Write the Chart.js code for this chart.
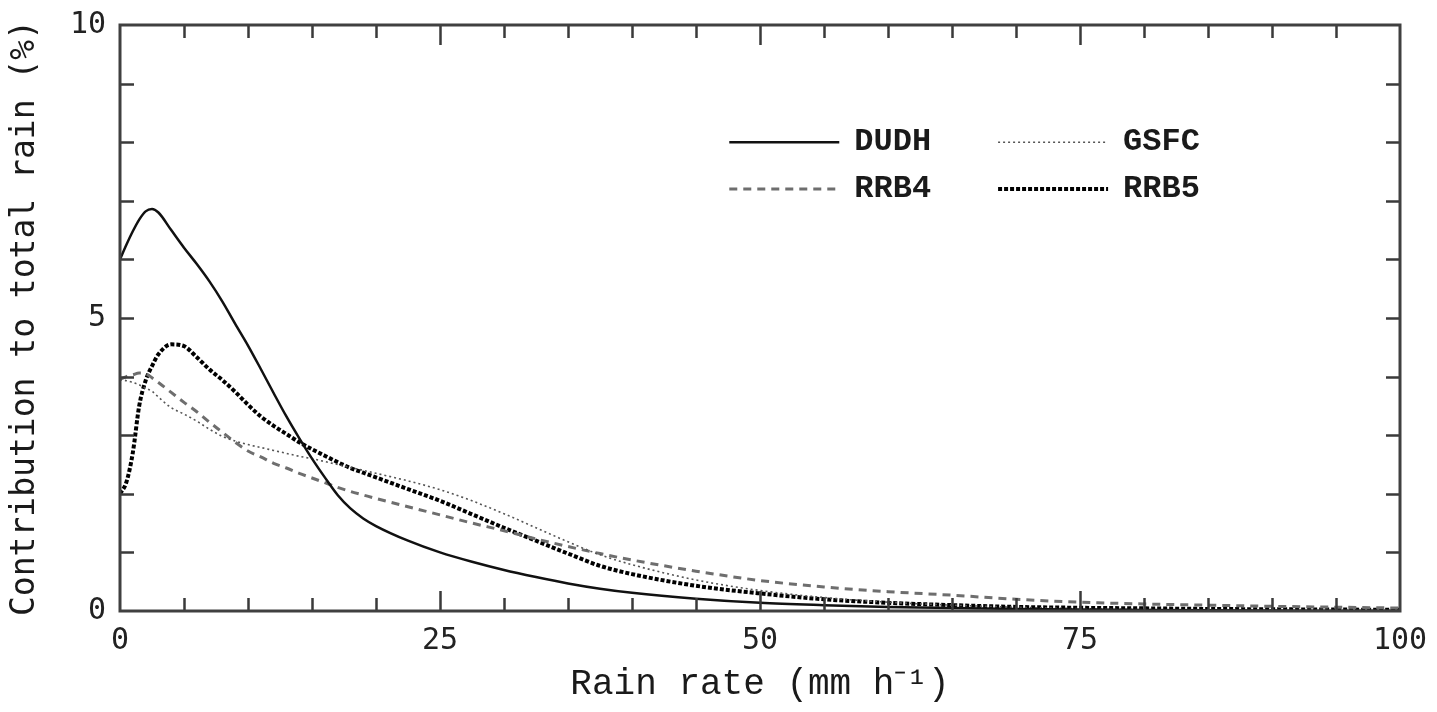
<!DOCTYPE html>
<html><head><meta charset="utf-8">
<script src="https://cdn.jsdelivr.net/npm/chart.js@4"></script>
<style>html,body{margin:0;padding:0;background:#fff;overflow:hidden}#wrap{width:1437px;height:712px}</style>
</head><body><div id="wrap"><canvas id="c" width="1437" height="712"></canvas></div>
<script>
// Rain rate (mm/h) sample points shared by all series
const rainRate = [0,0.5,1,1.5,2,2.5,3,4,5,6,7,8,9,10,11,12,13,14,15,16,17,18,19,20,22.5,25,27.5,30,32.5,35,37.5,40,45,50,55,60,65,70,75,80,85,90,95,100];
// Contribution to total rain (%)
const dudh = [6.0,6.25,6.48,6.68,6.82,6.86,6.8,6.5,6.2,5.92,5.62,5.28,4.9,4.53,4.13,3.72,3.32,2.95,2.6,2.28,1.98,1.75,1.58,1.45,1.2,1.0,0.84,0.7,0.58,0.47,0.38,0.31,0.21,0.14,0.1,0.07,0.05,0.035,0.025,0.018,0.012,0.008,0.005,0.003];
const gsfc = [3.95,3.93,3.9,3.86,3.8,3.75,3.65,3.47,3.36,3.24,3.1,2.98,2.9,2.84,2.79,2.74,2.69,2.64,2.6,2.55,2.5,2.45,2.4,2.35,2.22,2.07,1.88,1.66,1.42,1.18,0.96,0.79,0.53,0.35,0.23,0.15,0.1,0.065,0.04,0.025,0.015,0.01,0.005,0.0];
const rrb4 = [3.95,4.0,4.03,4.06,4.05,3.98,3.9,3.73,3.56,3.4,3.22,3.05,2.88,2.73,2.63,2.52,2.44,2.35,2.27,2.19,2.11,2.04,1.98,1.92,1.78,1.64,1.5,1.37,1.23,1.1,0.98,0.87,0.68,0.52,0.41,0.33,0.27,0.2,0.15,0.12,0.1,0.08,0.065,0.05];
const rrb5 = [2.0,2.2,2.7,3.5,3.93,4.18,4.38,4.55,4.52,4.33,4.12,3.94,3.74,3.52,3.32,3.16,3.02,2.88,2.76,2.65,2.54,2.44,2.36,2.28,2.08,1.88,1.65,1.42,1.2,0.98,0.77,0.63,0.43,0.3,0.2,0.14,0.1,0.07,0.055,0.045,0.035,0.03,0.025,0.02];
const seriesNames = ['DUDH','GSFC','RRB4','RRB5'];
const xTickLabels = [0,25,50,75,100];
const yTickLabels = [0,5,10];

const pts = arr => rainRate.map((x,i)=>({x:x,y:arr[i]}));
const styles = [
  {borderColor:'#111', borderWidth:2.5, borderDash:[]},
  {borderColor:'#555', borderWidth:1.6, borderDash:[2,3]},
  {borderColor:'#6e6e6e', borderWidth:3, borderDash:[8,6]},
  {borderColor:'#000', borderWidth:4, borderDash:[4,2]}
];
const values = [dudh,gsfc,rrb4,rrb5];
const datasets = seriesNames.map((n,i)=>Object.assign({
  label:n, data:pts(values[i]), pointRadius:0, fill:false,
  cubicInterpolationMode:'monotone'
}, styles[i]));

const frameTicks = {
  id:'frameTicks',
  afterDraw(chart){
    const ctx = chart.ctx, a = chart.chartArea, xs = chart.scales.x, ys = chart.scales.y;
    ctx.save();
    ctx.strokeStyle = '#3a3a3a';
    ctx.lineWidth = 2.5;
    ctx.beginPath();
    xs.ticks.forEach(t=>{
      if (t.value<=xs.min || t.value>=xs.max) return;
      const px = Math.round(xs.getPixelForValue(t.value))+0.5;
      const len = xTickLabels.includes(t.value) ? 20 : 13;
      ctx.moveTo(px,a.bottom); ctx.lineTo(px,a.bottom-len);
      ctx.moveTo(px,a.top); ctx.lineTo(px,a.top+len);
    });
    ys.ticks.forEach(t=>{
      if (t.value<=ys.min || t.value>=ys.max) return;
      const py = Math.round(ys.getPixelForValue(t.value))+0.5;
      ctx.moveTo(a.left,py); ctx.lineTo(a.left+14,py);
      ctx.moveTo(a.right,py); ctx.lineTo(a.right-14,py);
    });
    ctx.stroke();
    ctx.lineWidth = 3;
    ctx.strokeStyle = '#404040';
    ctx.strokeRect(a.left, a.top, a.right-a.left, a.bottom-a.top);
    ctx.restore();
  }
};

const insideLegend = {
  id:'insideLegend',
  afterDraw(chart){
    const ctx = chart.ctx, a = chart.chartArea;
    const w = a.right - a.left, h = a.bottom - a.top;
    const cols = [a.left + w*0.476, a.left + w*0.686];
    const rows = [a.top + h*0.20, a.top + h*0.28];
    ctx.save();
    ctx.font = 'bold 32px "Liberation Mono"';
    ctx.textBaseline = 'middle';
    ctx.fillStyle = '#1a1a1a';
    chart.data.datasets.forEach((ds,k)=>{
      const x0 = cols[k%2], y0 = rows[Math.floor(k/2)];
      ctx.save();
      ctx.strokeStyle = ds.borderColor; ctx.lineWidth = ds.borderWidth;
      ctx.setLineDash(ds.borderDash);
      ctx.beginPath(); ctx.moveTo(x0,y0); ctx.lineTo(x0+110,y0); ctx.stroke();
      ctx.restore();
      ctx.fillText(ds.label, x0+125, y0);
    });
    ctx.restore();
  }
};

new Chart(document.getElementById('c'), {
  type:'line',
  data:{datasets:datasets},
  options:{
    responsive:false, animation:false,
    layout:{padding:{top:25,right:37,left:0,bottom:0}},
    plugins:{legend:{display:false}, tooltip:{enabled:false}},
    scales:{
      x:{type:'linear', min:0, max:100,
        grid:{display:false, drawTicks:false}, border:{display:false},
        ticks:{stepSize:5, autoSkip:false, maxRotation:0, padding:12, color:'#222',
          font:{family:'"DejaVu Sans Mono"', size:30},
          callback:v=> xTickLabels.includes(v) ? String(v) : ''},
        title:{display:true, text:'Rain rate (mm h\u207B\u00B9)', color:'#1a1a1a',
          font:{family:'"Liberation Mono"', size:36}, padding:{top:0,bottom:6}},
        afterFit:s=>{s.height=101; s.paddingLeft=0; s.paddingRight=0;}
      },
      y:{type:'linear', min:0, max:10,
        grid:{display:false, drawTicks:false}, border:{display:false},
        ticks:{stepSize:1, autoSkip:false, padding:14, color:'#222',
          font:{family:'"DejaVu Sans Mono"', size:30},
          callback:v=> yTickLabels.includes(v) ? String(v) : ''},
        title:{display:true, text:'Contribution to total rain (%)', color:'#1a1a1a',
          font:{family:'"DejaVu Sans Mono"', size:33}, padding:{top:6,bottom:0}},
        afterFit:s=>{s.width=120; s.paddingTop=0; s.paddingBottom=0;}
      }
    }
  },
  plugins:[frameTicks, insideLegend]
});
</script></body></html>
